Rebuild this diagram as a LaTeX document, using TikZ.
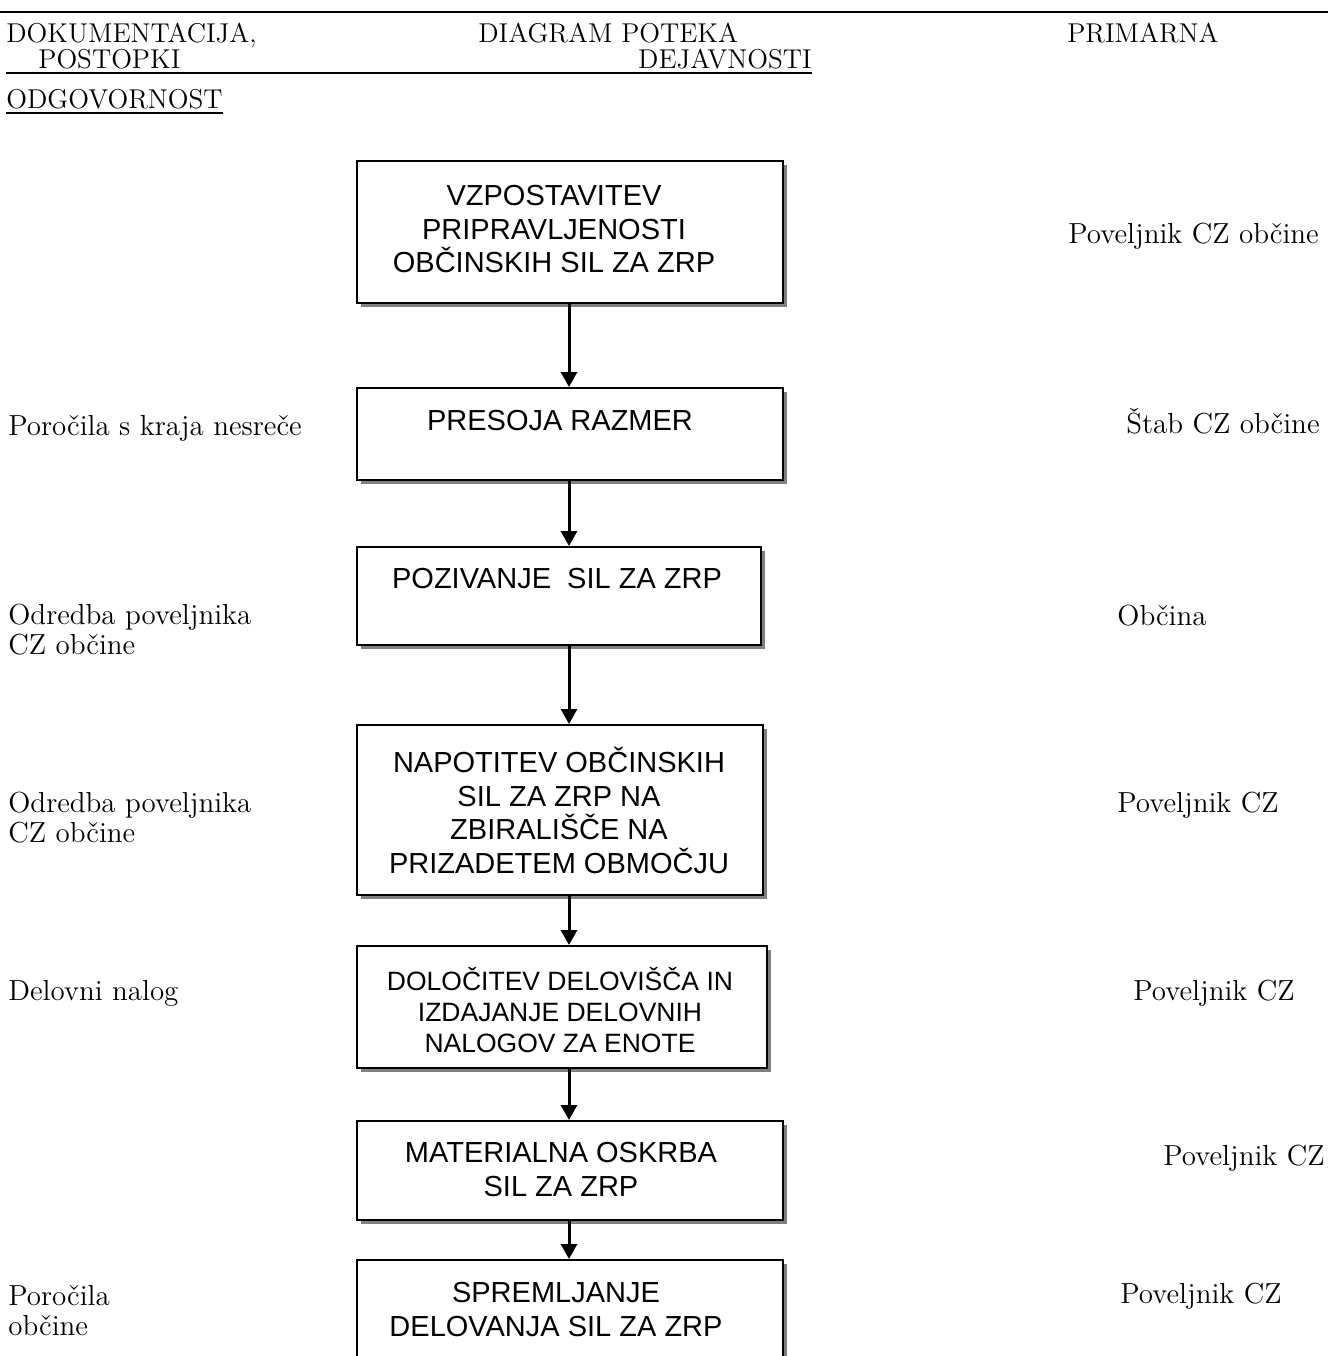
\documentclass[tikz,border=0pt]{standalone}
\usepackage{fontspec}
\newfontfamily\okvirfont{Liberation Sans}
\usetikzlibrary{arrows.meta,shadows}

\tikzset{
  okvir/.style={draw, line width=1pt, fill=white, inner sep=0pt, anchor=north west,
    drop shadow={shadow xshift=2pt, shadow yshift=-2pt, fill=black!50, opacity=1}},
  napis/.style={font=\okvirfont\fontsize{14.5}{16.75}\selectfont, align=center, inner sep=0pt, anchor=north},
  puscica/.style={line width=1.5pt, -{Triangle[width=8pt,length=7.5pt]}},
  opomba/.style={font=\fontsize{14.5}{15}\selectfont, align=left, anchor=base west, inner sep=0pt},
  glava/.style={font=\fontsize{13.6}{15}\selectfont, anchor=base west, inner sep=0pt},
}

\begin{document}
\begin{tikzpicture}[x=0.5pt,y=-0.5pt]
\useasboundingbox (0,0) rectangle (1328,1356);
%					Glava :
\draw[line width=1pt] (0,12) -- (1328,12);
\node[glava] (dok) at (6,42) {DOKUMENTACIJA,};
\node[glava] (diag) at (478,42) {DIAGRAM POTEKA};
\node[glava,anchor=base east] (prim) at (1219,42) {PRIMARNA};
\node[glava] (post) at (38,68) {POSTOPKI};
\node[glava,anchor=base east] (dej) at (812,68) {DEJAVNOSTI};
\draw[line width=1pt] (6,73) -- (812,73);
\node[glava] (odg) at (6,108) {ODGOVORNOST};
\draw[line width=1pt] (6,113) -- (odg.east |- 0,113);
%					Okvirji :
\node[okvir,minimum width=213pt,minimum height=71pt] (b1) at (356,160) {};
\node[okvir,minimum width=213pt,minimum height=46pt] (b2) at (356,387) {};
\node[okvir,minimum width=202pt,minimum height=49pt] (b3) at (356,546) {};
\node[okvir,minimum width=203pt,minimum height=85pt] (b4) at (356,724) {};
\node[okvir,minimum width=205pt,minimum height=61pt] (b5) at (356,945) {};
\node[okvir,minimum width=213pt,minimum height=49.5pt] (b6) at (356,1120) {};
\node[okvir,minimum width=213pt,minimum height=70pt] (b7) at (356,1259) {};
%					Napisi v okvirjih :
\node[napis] (t1) at (554,185) {VZPOSTAVITEV\\PRIPRAVLJENOSTI\\OBČINSKIH SIL ZA ZRP};
\node[napis] (t2) at (560,410) {PRESOJA RAZMER};
\node[napis] (t3) at (557,568) {POZIVANJE\ \ SIL ZA ZRP};
\node[napis] (t4) at (559,747) {NAPOTITEV OBČINSKIH\\SIL ZA ZRP NA\\ZBIRALIŠČE NA\\PRIZADETEM OBMOČJU};
\node[napis,font=\okvirfont\fontsize{13.25}{15.5}\selectfont] (t5) at (560,967) {DOLOČITEV DELOVIŠČA IN\\IZDAJANJE DELOVNIH\\NALOGOV ZA ENOTE};
\node[napis] (t6) at (561,1142) {MATERIALNA OSKRBA\\SIL ZA ZRP};
\node[napis] (t7) at (556,1282) {SPREMLJANJE\\DELOVANJA SIL ZA ZRP};
%					Puščice :
\coordinate (os) at (569,0);
\draw[puscica] (b1.south -| os) -- (b2.north -| os);
\draw[puscica] (b2.south -| os) -- (b3.north -| os);
\draw[puscica] (b3.south -| os) -- (b4.north -| os);
\draw[puscica] (b4.south -| os) -- (b5.north -| os);
\draw[puscica] (b5.south -| os) -- (b6.north -| os);
\draw[puscica] (b6.south -| os) -- (b7.north -| os);
%					Dokumentacija (levo) :
\node[opomba] (d2) at (8,435) {Poročila s kraja nesreče};
\node[opomba] (d3) at (8,654) {Odredba poveljnika\\CZ občine};
\node[opomba] (d4) at (8,842) {Odredba poveljnika\\CZ občine};
\node[opomba] (d5) at (8,1000) {Delovni nalog};
\node[opomba] (d7) at (8,1335) {Poročila\\občine};
%					Odgovornost (desno) :
\node[opomba] (o1) at (1068,243) {Poveljnik CZ občine};
\node[opomba] (o2) at (1126,433) {Štab CZ občine};
\node[opomba] (o3) at (1117,625) {Občina};
\node[opomba] (o4) at (1117,812) {Poveljnik CZ};
\node[opomba] (o5) at (1133,1000) {Poveljnik CZ};
\node[opomba] (o6) at (1163,1165) {Poveljnik CZ};
\node[opomba] (o7) at (1120,1303) {Poveljnik CZ};
\end{tikzpicture}
\end{document}
